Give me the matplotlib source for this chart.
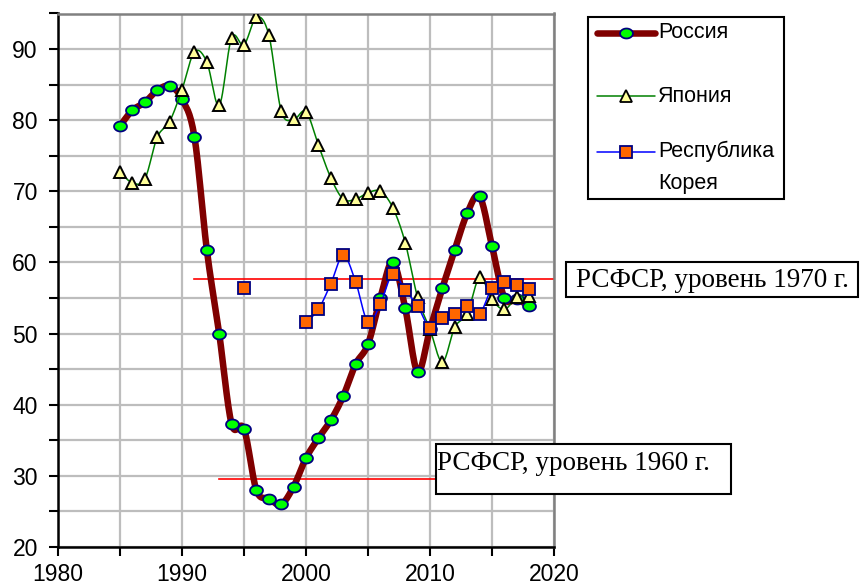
import numpy as np
import matplotlib
matplotlib.use("Agg")
import matplotlib.pyplot as plt
from matplotlib.path import Path
from matplotlib.patches import Rectangle
from matplotlib.lines import Line2D
from matplotlib.ticker import MultipleLocator

# ---------------- data ----------------
years_ru = list(range(1985, 2019))
russia = [79.2, 81.4, 82.5, 84.2, 84.8, 83.0, 77.7, 61.8, 50.0, 37.3, 36.6, 28.0,
          26.8, 26.0, 28.5, 32.5, 35.3, 37.8, 41.2, 45.7, 48.5, 55.0, 60.1, 53.6,
          44.6, 50.6, 56.4, 61.8, 66.9, 69.3, 62.3, 55.0, 54.8, 53.9]

years_jp = list(range(1985, 2019))
japan = [72.7, 71.2, 71.7, 77.6, 79.8, 84.3, 89.6, 88.2, 82.1, 91.6, 90.6, 94.5,
         92.0, 81.3, 80.1, 81.2, 76.5, 71.9, 68.9, 68.9, 69.8, 70.0, 67.7, 62.8,
         55.1, 50.6, 46.0, 50.9, 52.8, 57.9, 54.8, 53.4, 55.1, 55.3]

years_kr = [1995, 1996, 1997, 1998, 1999, 2000, 2001, 2002, 2003, 2004, 2005, 2006,
            2007, 2008, 2009, 2010, 2011, 2012, 2013, 2014, 2015, 2016, 2017, 2018]
korea = [56.4, np.nan, np.nan, np.nan, np.nan, 51.6, 53.4, 57.0, 61.0, 57.3, 51.6, 54.2,
         58.4, 56.1, 53.9, 50.8, 52.2, 52.8, 53.9, 52.8, 56.4, 57.3, 56.8, 56.2]

level_1970 = 57.7
level_1970_span = (1991, 2020)
level_1960 = 29.5
level_1960_span = (1993, 2020)

labels = ["Россия", "Япония", "Республика\nКорея"]
note_1970 = "РСФСР, уровень 1970 г."
note_1960 = "РСФСР, уровень 1960 г."


def smooth(xs, ys, n=16):
    """Bezier smoothing (Excel-like) through the points, split at NaN gaps."""
    xs = np.asarray(xs, float)
    ys = np.asarray(ys, float)
    outx, outy = [], []
    ok = ~np.isnan(ys)
    idx = np.where(ok)[0]
    groups = np.split(idx, np.where(np.diff(idx) != 1)[0] + 1)
    for g in groups:
        if len(g) < 2:
            continue
        P = np.column_stack([xs[g], ys[g]])
        m = len(P)
        for i in range(m - 1):
            p0 = P[i - 1] if i > 0 else P[i]
            p1 = P[i]
            p2 = P[i + 1]
            p3 = P[i + 2] if i + 2 < m else P[i + 1]
            c1 = p1 + (p2 - p0) / 6.0
            c2 = p2 - (p3 - p1) / 6.0
            t = np.linspace(0, 1, n)[:, None]
            seg = ((1 - t) ** 3) * p1 + 3 * ((1 - t) ** 2) * t * c1 + 3 * (1 - t) * t ** 2 * c2 + t ** 3 * p2
            outx.extend(seg[:, 0]); outy.extend(seg[:, 1])
        outx.append(np.nan); outy.append(np.nan)
    return np.array(outx), np.array(outy)


# ellipse marker
th = np.linspace(0, 2 * np.pi, 40)
ell = Path(np.column_stack([1.3 * np.cos(th), np.sin(th)]), closed=True)

W, H = 861, 585
fig = plt.figure(figsize=(W / 100, H / 100), dpi=100)
fig.patch.set_facecolor("white")
ax = fig.add_axes([58 / W, 1 - 547 / H, (554 - 58) / W, (547 - 13.5) / H])

ax.set_xlim(1980, 2020)
ax.set_ylim(20, 95)
ax.xaxis.set_major_locator(MultipleLocator(10))
ax.xaxis.set_minor_locator(MultipleLocator(5))
ax.yaxis.set_major_locator(MultipleLocator(10))
ax.yaxis.set_minor_locator(MultipleLocator(5))
ax.set_yticks([20, 30, 40, 50, 60, 70, 80, 90])
ax.grid(True, which="both", color="#bdbdbd", linewidth=1.6, zorder=0)
ax.set_axisbelow(True)
ax.tick_params(which="both", direction="out", length=6.5, width=1.5, color="black")
ax.tick_params(axis="y", which="major", labelsize=16.5, pad=8)
ax.tick_params(axis="x", which="major", labelsize=16.5, pad=5)
for lab in ax.get_xticklabels() + ax.get_yticklabels():
    lab.set_family("Liberation Sans")
for s in ["left", "bottom"]:
    ax.spines[s].set_color("black")
    ax.spines[s].set_linewidth(1.8)
for s in ["top", "right"]:
    ax.spines[s].set_color("#808080")
    ax.spines[s].set_linewidth(1.8)

# reference levels
ax.plot(level_1970_span, [level_1970, level_1970], color="red", lw=1.2, zorder=2)
ax.plot(level_1960_span, [level_1960, level_1960], color="red", lw=1.2, zorder=2)

# Russia
sx, sy = smooth(years_ru, russia)
ax.plot(sx, sy, color="#800000", lw=4.7, zorder=3, solid_capstyle="round")
ax.plot(years_ru, russia, ls="none", marker=ell, ms=9.3, mfc="#00ff00", mec="#000080",
        mew=1.3, zorder=4)

# Japan
sx, sy = smooth(years_jp, japan)
ax.plot(sx, sy, color="#008000", lw=1.1, zorder=5)
ax.plot(years_jp, japan, ls="none", marker="^", ms=9.3, mfc="#ffff99", mec="black",
        mew=1.4, zorder=6)

# Korea
sx, sy = smooth(years_kr, korea)
ax.plot(sx, sy, color="#0000ff", lw=1.1, zorder=7)
ax.plot(years_kr, korea, ls="none", marker="s", ms=8.5, mfc="#ff6600", mec="#000080",
        mew=1.3, zorder=8)


def fx(px):
    return px / W


def fy(py):
    return 1 - py / H


# legend (figure-level box)
fig.add_artist(Rectangle((fx(588), fy(199)), fx(784) - fx(588), fy(17) - fy(199),
                         transform=fig.transFigure, fill=True, facecolor="white",
                         edgecolor="black", lw=1.5, zorder=10))
handles = [
    dict(color="#800000", lw=4.7, marker=ell, ms=9.3, mfc="#00ff00", mec="#000080", y=33),
    dict(color="#008000", lw=1.1, marker="^", ms=9.3, mfc="#ffff99", mec="black", y=96),
    dict(color="#0000ff", lw=1.1, marker="s", ms=8.5, mfc="#ff6600", mec="#000080", y=152),
]
for h, lab in zip(handles, labels):
    yy = h.pop("y")
    ln = Line2D([fx(597), fx(655)], [fy(yy), fy(yy)], transform=fig.transFigure,
                color=h["color"], lw=h["lw"], zorder=11, solid_capstyle="round")
    fig.add_artist(ln)
    mk = Line2D([fx(626)], [fy(yy)], transform=fig.transFigure, ls="none",
                marker=h["marker"], ms=h["ms"], mfc=h["mfc"], mec=h["mec"], mew=1.3,
                zorder=12)
    fig.add_artist(mk)
    if "\n" in lab:
        fig.text(fx(658), fy(yy - 11), lab, ha="left", va="top", fontsize=15.5,
                 family="Liberation Sans", zorder=13, linespacing=1.65)
    else:
        fig.text(fx(658), fy(yy), lab, ha="left", va="center", fontsize=15.5,
                 family="Liberation Sans", zorder=13)

# annotation boxes
fig.add_artist(Rectangle((fx(566), fy(297)), fx(858) - fx(566), fy(262) - fy(297),
                         transform=fig.transFigure, facecolor="white", edgecolor="black",
                         lw=1.5, zorder=10))
fig.text(fx(576), fy(280), note_1970, ha="left", va="center", fontsize=19.5,
         family="Liberation Serif", zorder=13)

fig.add_artist(Rectangle((fx(436), fy(494)), fx(731) - fx(436), fy(444) - fy(494),
                         transform=fig.transFigure, facecolor="white", edgecolor="black",
                         lw=1.5, zorder=10))
fig.text(fx(437), fy(463), note_1960, ha="left", va="center", fontsize=19.5,
         family="Liberation Serif", zorder=13)

fig.savefig("out.png", dpi=100)
